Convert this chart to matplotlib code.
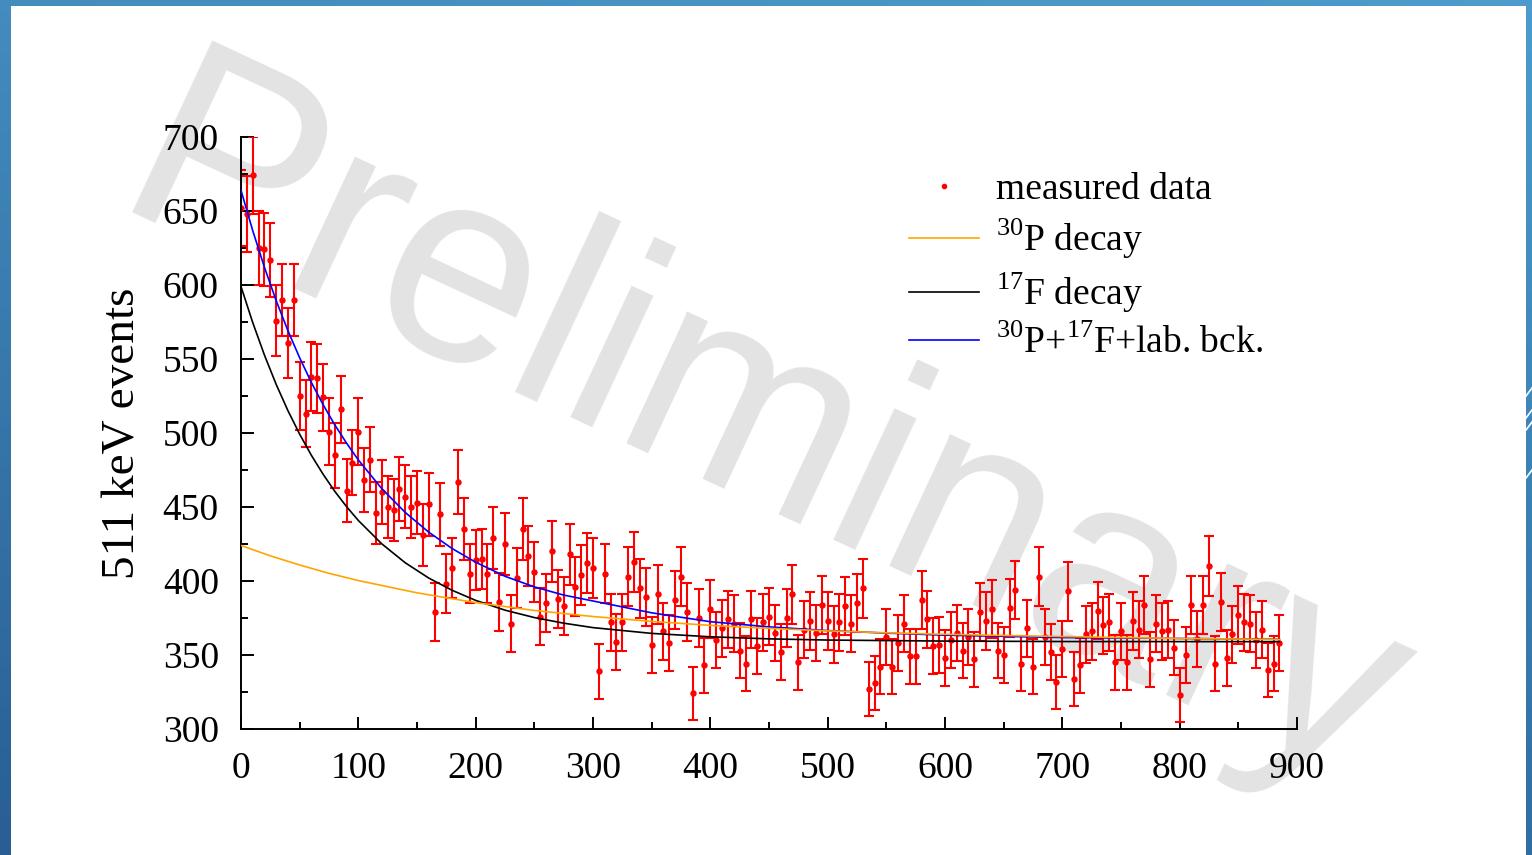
import numpy as np
import matplotlib
matplotlib.use('Agg')
import matplotlib.pyplot as plt
from matplotlib.lines import Line2D
from matplotlib.ticker import MultipleLocator

# time bins (s) and measured 511 keV counts
time = np.arange(0, 890, 5)
counts = np.array([
    652, 648, 674, 625, 624, 617, 576, 590, 561, 590,
    525, 513, 538, 537, 524, 501, 485, 516, 461, 480,
    501, 468, 482, 446, 460, 450, 448, 462, 457, 450,
    453, 431, 452, 379, 445, 398, 409, 467, 435, 405,
    414, 415, 405, 429, 386, 425, 371, 402, 435, 417,
    406, 376, 385, 420, 388, 383, 418, 396, 404, 412,
    409, 339, 405, 372, 359, 372, 403, 413, 395, 389,
    357, 391, 366, 358, 387, 403, 379, 324, 375, 343,
    381, 360, 368, 374, 371, 353, 344, 374, 356, 372,
    376, 365, 352, 375, 391, 345, 367, 373, 365, 384,
    373, 364, 372, 383, 371, 385, 395, 327, 331, 342,
    362, 342, 358, 371, 349, 349, 387, 374, 356, 357,
    348, 360, 365, 353, 362, 347, 379, 373, 381, 353,
    350, 382, 394, 344, 368, 342, 403, 362, 352, 332,
    354, 393, 334, 343, 364, 366, 380, 370, 372, 345,
    366, 345, 373, 367, 384, 347, 371, 366, 367, 355,
    323, 350, 384, 361, 384, 410, 344, 386, 348, 364,
    377, 372, 371, 360, 367, 340, 344, 358,
])
errors = np.sqrt(counts)  # Poisson

# fitted curves
t_f = [0, 10, 20, 30, 40, 50, 60, 70, 80, 90, 100, 120, 140, 160, 180, 200,
       225, 250, 275, 300, 350, 400, 450, 500, 600, 700, 885]
f17 = [599, 574.6, 552.6, 532.8, 515.1, 499.2, 484.9, 472.1, 460.5, 450.2, 440.9,
       425.1, 412.3, 402, 393.7, 386.9, 380.3, 375.3, 371.5, 368.5, 364.6, 362.3,
       360.9, 360.1, 359.4, 359.1, 359]

t_p = [0, 25, 50, 75, 100, 150, 200, 250, 300, 350, 400, 450, 500, 550, 600,
       650, 700, 750, 800, 885]
p30 = [424, 417, 410.8, 405.2, 400.3, 392, 385.4, 380.1, 376, 372.7, 370, 368,
       366.3, 365, 364, 363.2, 362.5, 361.8, 361.2, 360.5]

t_sum = [0, 10, 20, 30, 40, 50, 60, 70, 80, 90, 100, 120, 140, 160, 180, 200,
         225, 250, 275, 300, 350, 400, 450, 500, 550, 600, 700, 885]
total = [664, 636.7, 611.9, 589.4, 569.1, 550.8, 534.1, 519.1, 505.4, 493.1, 481.8,
         462.4, 446.3, 433, 421.9, 412.7, 403.2, 396, 390.5, 386.5, 378.5, 372.5,
         369, 366.5, 364.8, 363.4, 361.8, 360.6]

plt.rcParams['font.family'] = ['Liberation Serif', 'DejaVu Serif']
plt.rcParams['mathtext.fontset'] = 'custom'
plt.rcParams['mathtext.rm'] = 'Liberation Serif'

fig = plt.figure(figsize=(15.32, 8.55), dpi=100)

# slide background: blue frame with white page
bg = fig.add_axes([0, 0, 1, 1], zorder=-5)
gx, gy = np.meshgrid(np.linspace(0, 1, 64), np.linspace(0, 1, 64))
c_top = np.array([0.30, 0.61, 0.80])
c_bot = np.array([0.16, 0.37, 0.58])
w = (0.75 * gy + 0.25 * gx)[..., None]
grad = c_bot * (1 - w) + c_top * w
bg.imshow(grad, extent=[0, 1, 0, 1], origin='lower', aspect='auto')
bg.add_patch(plt.Rectangle((11 / 1532, 0), (1526 - 11) / 1532, 1 - 6 / 855,
                           facecolor='white', edgecolor='none'))
for yy in [388, 410, 422, 470]:
    bg.plot([1526 / 1532, 1], [1 - (yy + 8) / 855, 1 - yy / 855], color='white', lw=1.2)
bg.set_xlim(0, 1)
bg.set_ylim(0, 1)
bg.axis('off')

fig.text(0.497, 0.487, 'Preliminary', rotation=-25, fontsize=198,
         color='#e3e3e3', ha='center', va='center', family='Liberation Sans', zorder=-1)

ax = fig.add_axes([241 / 1532, 1 - 729 / 855, (1297 - 241) / 1532, (729 - 137) / 855])
ax.patch.set_alpha(0)

ax.errorbar(time, counts, yerr=errors, fmt='o', color='red', ms=3.6, lw=1.5,
            capsize=3.8, capthick=1.5, zorder=2)
ax.plot(t_f, f17, color='black', lw=1.2, zorder=3)
ax.plot(t_sum, total, color='blue', lw=1.2, zorder=4)
ax.plot(t_p, p30, color='#ffa500', lw=1.2, zorder=5)

ax.set_xlim(0, 900)
ax.set_ylim(300, 700)
ax.xaxis.set_major_locator(MultipleLocator(100))
ax.xaxis.set_minor_locator(MultipleLocator(50))
ax.yaxis.set_major_locator(MultipleLocator(50))
ax.yaxis.set_minor_locator(MultipleLocator(25))
ax.tick_params(which='both', direction='in', top=False, right=False, width=1.4,
               labelsize=27, pad=16)
ax.tick_params(which='major', length=9)
ax.tick_params(which='minor', length=5)
for s in ['top', 'right']:
    ax.spines[s].set_visible(False)
for s in ['left', 'bottom']:
    ax.spines[s].set_linewidth(1.4)

ax.set_ylabel('511 keV events', fontsize=34, labelpad=13)

handles = [
    Line2D([], [], marker='o', ls='none', color='red', ms=3),
    Line2D([], [], color='#ffa500', lw=1.2),
    Line2D([], [], color='black', lw=1.2),
    Line2D([], [], color='blue', lw=1.2),
]
labels = ['measured data', '$^{30}$P decay', '$^{17}$F decay',
          '$^{30}$P+$^{17}$F+lab. bck.']
ax.legend(handles, labels, loc='upper left', bbox_to_anchor=(0.633, 0.94),
          frameon=False, fontsize=27, handlelength=1.85, handletextpad=0.45,
          labelspacing=0.26, borderpad=0, borderaxespad=0)

fig.savefig('out.png', dpi=100)
